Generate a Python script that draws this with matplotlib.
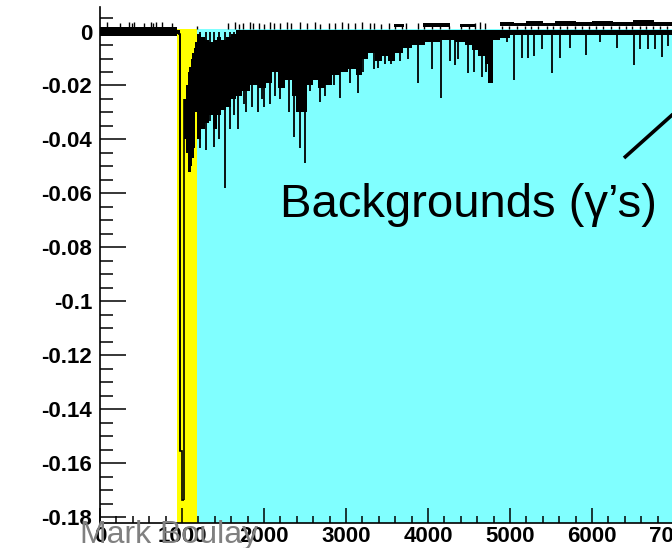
import matplotlib
matplotlib.use('Agg')
import matplotlib.pyplot as plt
from matplotlib.ticker import MultipleLocator, FuncFormatter
from matplotlib.lines import Line2D

plt.rcParams['font.family'] = ['Liberation Sans', 'DejaVu Sans']
plt.rcParams['axes.unicode_minus'] = False

# ---------------- data ----------------
prompt_window = (945, 1188)      # yellow band
late_window = (1188, 8000)       # cyan band
window_top = 0.001

# prompt pulse histogram bins
pulse_edges = [955, 978, 1005, 1030]
pulse_vals = [-0.0008, -0.1555, -0.1735]

# dense trace envelope (step: holds until next x)
band_x = [0, 945, 978, 1030, 1049, 1068, 1086, 1104, 1122, 1141, 1159, 1177,
          1188, 1232, 1281, 1330, 1379, 1427, 1476, 1537, 1598, 1659, 1732,
          1830, 1928, 2025, 2098, 2172, 2257, 2342, 2391, 2525, 2600, 2660,
          2745, 2830, 2928, 3026, 3123, 3196, 3270, 3355, 3440, 3514, 3600,
          3697, 3806, 3965, 4148, 4331, 4453, 4538, 4612, 4697, 4734, 4795,
          4880, 5000, 8000]
band_top = [0.0015, 0.0005, 0.0, -0.025, -0.020, -0.015, -0.013, -0.010, -0.008,
            -0.006, -0.004, -0.003, -0.001, -0.002, -0.003, -0.004, -0.003,
            -0.002, -0.003, -0.002, -0.001, 0.0005, 0.0005, 0.0005, 0.0005,
            0.0005, 0.0005, 0.0005, 0.0005, 0.0005, 0.0005, 0.0005, 0.0005,
            0.0005, 0.0005, 0.0005, 0.0005, 0.0005, 0.0005, 0.0005, 0.0005,
            0.0005, 0.0005, 0.0005, 0.0005, 0.0005, 0.0005, 0.0005, 0.0005,
            0.0005, 0.0005, 0.0005, 0.0005, 0.0005, 0.0005, 0.0005, 0.0005,
            0.0005, 0.0005]
band_bot = [-0.0015, -0.0010, 0.0, -0.040, -0.045, -0.052, -0.052, -0.050,
            -0.047, -0.043, -0.030, -0.018, -0.040, -0.036, -0.034, -0.031,
            -0.036, -0.031, -0.029, -0.028, -0.025, -0.024, -0.022, -0.020,
            -0.021, -0.019, -0.015, -0.021, -0.018, -0.024, -0.030, -0.020,
            -0.018, -0.021, -0.020, -0.016, -0.015, -0.014, -0.016, -0.010,
            -0.008, -0.011, -0.009, -0.011, -0.008, -0.006, -0.005, -0.004,
            -0.003, -0.004, -0.005, -0.007, -0.009, -0.012, -0.019, -0.003,
            -0.0025, -0.0012, -0.0012]

# isolated downward spikes
spike_x = [1220, 1293, 1342, 1390, 1452, 1525, 1586, 1635, 1684, 1757, 1781,
           1855, 1928, 1977, 2001, 2074, 2135, 2196, 2306, 2367, 2440, 2501,
           2562, 2684, 2745, 2855, 2928, 3050, 3148, 3209, 3343, 3392, 3477,
           3550, 3660, 3758, 3880, 4050, 4160, 4270, 4331, 4368, 4490, 4563,
           4660, 4710, 4965, 5050, 5150, 5222, 5295, 5392, 5514, 5612, 5734,
           5929, 6100, 6307, 6514, 6588, 6685, 6771, 6856, 6930]
spike_y = [-0.043, -0.044, -0.033, -0.0427, -0.040, -0.058, -0.036, -0.031,
           -0.036, -0.027, -0.030, -0.028, -0.030, -0.025, -0.028, -0.027,
           -0.024, -0.025, -0.030, -0.039, -0.043, -0.0486, -0.022, -0.026,
           -0.024, -0.020, -0.0246, -0.019, -0.0227, -0.015, -0.014, -0.0135,
           -0.012, -0.012, -0.011, -0.010, -0.019, -0.014, -0.0246, -0.011,
           -0.0125, -0.010, -0.0155, -0.015, -0.017, -0.015, -0.004, -0.018,
           -0.0097, -0.0097, -0.009, -0.0065, -0.0153, -0.0097, -0.006,
           -0.0087, -0.004, -0.006, -0.0123, -0.0065, -0.0065, -0.0065,
           -0.0093, -0.0052]

# upward noise band (step)
up_x = [0, 945, 3589, 3709, 3940, 4270, 4390, 4575, 4880, 5050, 5200, 5400,
        5550, 5800, 6000, 6250, 6500, 6750, 7000, 8000]
up_bot = [0.001, 0.001, 0.0018, 0.001, 0.0018, 0.001, 0.0018, 0.001, 0.0019,
          0.0019, 0.0019, 0.0019, 0.0019, 0.0019, 0.0019, 0.0019, 0.0019,
          0.0019, 0.0019, 0.0019]
up_top = [0.0015, 0.001, 0.0028, 0.001, 0.0030, 0.001, 0.0028, 0.001, 0.0035,
          0.0031, 0.0038, 0.0033, 0.0040, 0.0034, 0.0039, 0.0035, 0.0041,
          0.0036, 0.0040, 0.0040]

# isolated upward ticks
tick_x = [85, 244, 354, 390, 415, 537, 622, 647, 683, 756, 878,
          1183, 1562, 1647, 1695, 1745, 1830, 1867, 1940, 2000, 2074, 2122,
          2196, 2284, 2330, 2440, 2526, 2623, 2684, 2794, 2867, 2952, 3026,
          3111, 3196, 3294, 3343, 3428, 3526, 3733, 3880, 4575, 4636, 4697,
          3600, 3680, 3950, 4050, 4150, 4250, 4400, 4500, 4900, 4990, 5090,
          5180, 5260, 5340, 5450, 5520, 5610, 5700, 5790, 5880, 5960, 6050,
          6140, 6230, 6330, 6410, 6490, 6580, 6660, 6740, 6830, 6920, 7000]
tick_y = [0.0035, 0.0033, 0.0035, 0.0030, 0.0035, 0.0033, 0.0035, 0.0030,
          0.0034, 0.0035, 0.0030,
          0.0020, 0.0030, 0.0035, 0.0028, 0.0032, 0.0035, 0.0030, 0.0033,
          0.0028, 0.0035, 0.0030, 0.0033, 0.0036, 0.0030, 0.0034, 0.0030,
          0.0035, 0.0028, 0.0033, 0.0030, 0.0035, 0.0030, 0.0032, 0.0035,
          0.0030, 0.0033, 0.0028, 0.0030, 0.0030, 0.0033, 0.0030, 0.0035,
          0.0030,
          0.0022, 0.0022, 0.0022, 0.0022, 0.0022, 0.0022, 0.0022, 0.0022,
          0.0022, 0.0022, 0.0022, 0.0022, 0.0022, 0.0022, 0.0022, 0.0022,
          0.0022, 0.0022, 0.0022, 0.0022, 0.0022, 0.0022, 0.0022, 0.0022,
          0.0022, 0.0022, 0.0022, 0.0022, 0.0022, 0.0022, 0.0022, 0.0022,
          0.0022]

x_ticks = [0, 1000, 2000, 3000, 4000, 5000, 6000, 7000, 8000]
y_ticks = [0, -0.02, -0.04, -0.06, -0.08, -0.1, -0.12, -0.14, -0.16, -0.18]

label_text = "Backgrounds (\u03b3\u2019s)"
credit_text = "Mark Boulay"

# ---------------- figure ----------------
W, H = 672, 548
fig = plt.figure(figsize=(W / 100, H / 100), dpi=100)
ax = fig.add_axes([100 / W, (H - 523) / H, 656 / W, (523 - 7) / H])
ax.set_xlim(0, 8000)
ax.set_ylim(-0.1822, 0.0091)

ax.fill_between(prompt_window, -0.1822, window_top, color='#FFFF00', lw=0, zorder=1)
ax.fill_between(late_window, -0.1822, window_top, color='#80FFFF', lw=0, zorder=1)

ax.fill_between(band_x, band_bot, band_top, step='post', color='black', lw=0, zorder=2)
ax.fill_between(up_x, up_bot, up_top, step='post', color='black', lw=0, zorder=2)
ax.vlines(spike_x, 0.0, spike_y, color='black', lw=1.3, zorder=2)
ax.vlines(tick_x, window_top, tick_y, color='black', lw=1.0, zorder=2)
ax.stairs(pulse_vals, pulse_edges, baseline=None, color='black', lw=1.2, zorder=2)
ax.vlines([pulse_edges[-1]], pulse_vals[-1], band_top[3], color='black', lw=1.2, zorder=2)
ax.vlines([pulse_edges[1]], pulse_vals[0], pulse_vals[1], color='black', lw=1.2, zorder=2)

for s in ['top', 'right']:
    ax.spines[s].set_visible(False)
for s in ['left', 'bottom']:
    ax.spines[s].set_linewidth(1.2)

ax.set_xticks(x_ticks)
ax.set_yticks(y_ticks)
ax.xaxis.set_minor_locator(MultipleLocator(200))
ax.yaxis.set_minor_locator(MultipleLocator(0.005))
ax.yaxis.set_major_formatter(FuncFormatter(lambda v, p: '0' if abs(v) < 1e-9 else ('%g' % v)))
ax.xaxis.set_major_formatter(FuncFormatter(lambda v, p: '%d' % v))
ax.tick_params(axis='y', which='major', direction='in', length=18.7, width=1.1, pad=5.5,
               labelsize=16)
ax.tick_params(axis='y', which='minor', direction='in', length=9.4, width=1.1)
ax.tick_params(axis='x', which='major', direction='in', length=10.8, width=1.1, pad=2.0,
               labelsize=16)
ax.tick_params(axis='x', which='minor', direction='in', length=5.4, width=1.1)
for lab in ax.get_xticklabels() + ax.get_yticklabels():
    lab.set_fontweight('bold')

fig.text(280 / W, (H - 217) / H, label_text, fontsize=34, color='black',
         va='baseline', ha='left')
fig.add_artist(Line2D([624 / W, 700 / W], [(H - 158) / H, (H - 90) / H],
                      transform=fig.transFigure, color='black', lw=2.6,
                      solid_capstyle='butt'))
fig.text(80 / W, (H - 543) / H, credit_text, fontsize=23, color='#808080',
         va='baseline', ha='left')

fig.savefig('out.png', dpi=100)
